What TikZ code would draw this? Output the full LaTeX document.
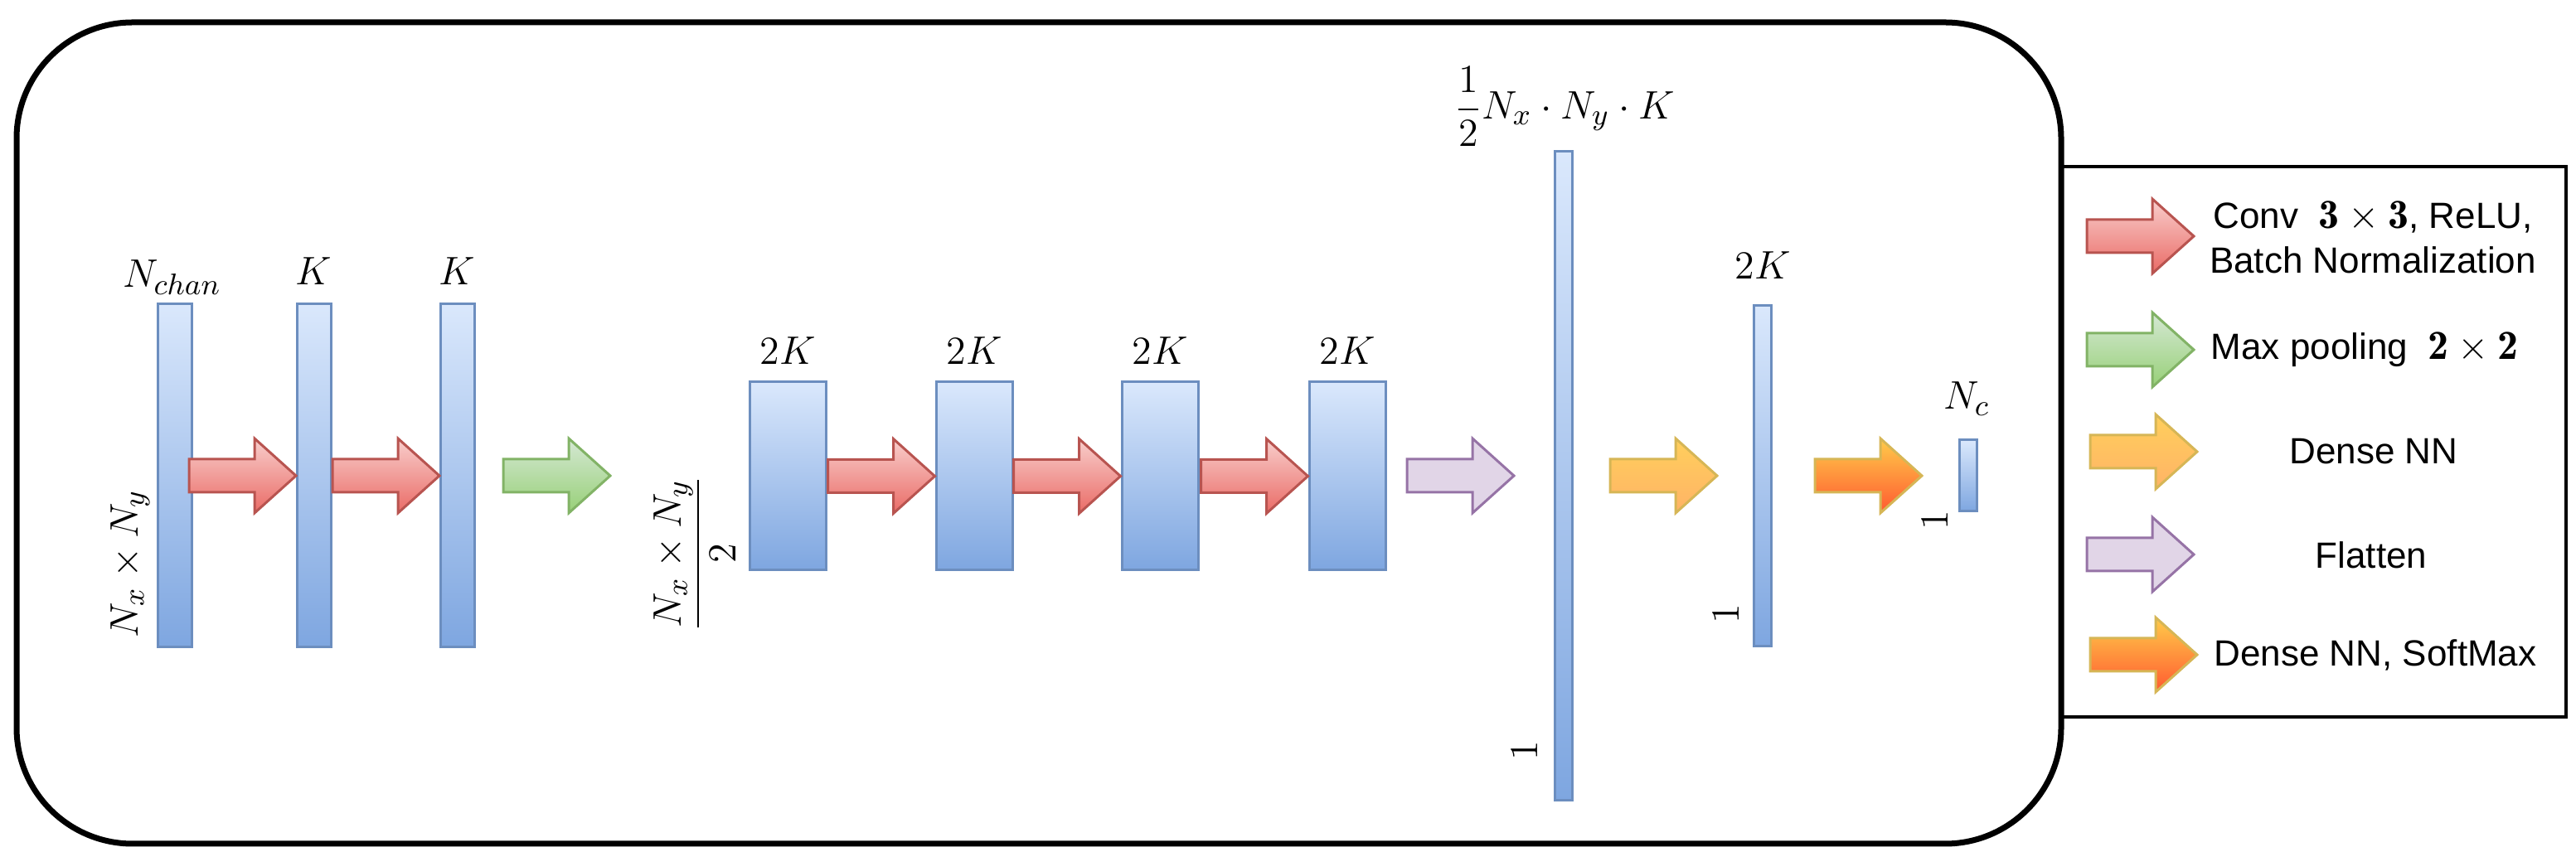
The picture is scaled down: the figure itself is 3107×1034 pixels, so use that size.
\documentclass[tikz,border=0pt]{standalone}
\usepackage{amsmath}
\usepackage{fontspec}
\newfontfamily\legendfont{Liberation Sans}
\definecolor{bartop}{HTML}{DAE8FC}
\definecolor{barbot}{HTML}{7EA6E0}
\definecolor{barline}{HTML}{6C8EBF}
\definecolor{redtop}{HTML}{F8CECC}
\definecolor{redbot}{HTML}{EA6B66}
\definecolor{redline}{HTML}{B85450}
\definecolor{greentop}{HTML}{D5E8D4}
\definecolor{greenbot}{HTML}{97D077}
\definecolor{greenline}{HTML}{82B366}
\definecolor{yeltop}{HTML}{FFCF5C}
\definecolor{yelbot}{HTML}{FFB366}
\definecolor{yelline}{HTML}{D6B656}
\definecolor{orgtop}{HTML}{FFCB4A}
\definecolor{orgbot}{HTML}{FF5A30}
\definecolor{purfill}{HTML}{E1D5E7}
\definecolor{purline}{HTML}{9673A6}
\begin{document}
\begin{tikzpicture}[x=0.25pt,y=-0.25pt,
  every node/.style={font=\fontsize{12.5}{15}\selectfont, inner sep=0pt},
  bar/.style={draw=barline, line width=0.75pt, top color=bartop, bottom color=barbot, inner sep=0pt},
  barrow/.pic={\path[pic actions] (0,0) -- (-50,-45) -- (-50,-20) -- (-129,-20) -- (-129,20) -- (-50,20) -- (-50,45) -- cycle;},
  redarrow/.style={draw=redline, line width=0.75pt, top color=redtop, bottom color=redbot},
  greenarrow/.style={draw=greenline, line width=0.75pt, top color=greentop, bottom color=greenbot},
  yelarrow/.style={draw=yelline, line width=0.75pt, top color=yeltop, bottom color=yelbot},
  orgarrow/.style={draw=yelline, line width=0.75pt, top color=orgtop, bottom color=orgbot},
  purarrow/.style={draw=purline, line width=0.75pt, fill=purfill},
  legtext/.style={font=\legendfont\fontsize{11}{13.5}\selectfont, align=center},
  rot/.style={rotate=90}
]
\useasboundingbox (0,0) rectangle (3107,1034);
% frames
\draw[line width=1.75pt, rounded corners=35pt] (20,27) rectangle (2486,1018);
\draw[line width=0.8pt] (2486,201) rectangle (3095,865);

% bars
\node[bar, minimum width=10.25pt, minimum height=103.5pt] (b1) at (210.5,574) {};
\node[bar, minimum width=10.25pt, minimum height=103.5pt] (b2) at (379,574) {};
\node[bar, minimum width=10.25pt, minimum height=103.5pt] (b3) at (552,574) {};
\node[bar, minimum width=23pt, minimum height=56.75pt] (c1) at (950,574.5) {};
\node[bar, minimum width=23pt, minimum height=56.75pt] (c2) at (1175,574.5) {};
\node[bar, minimum width=23pt, minimum height=56.75pt] (c3) at (1399,574.5) {};
\node[bar, minimum width=23pt, minimum height=56.75pt] (c4) at (1625,574.5) {};
\node[bar, minimum width=5.25pt, minimum height=195.75pt] (f) at (1885.5,574.5) {};
\node[bar, minimum width=5.25pt, minimum height=102.75pt] (d) at (2125.5,574.5) {};
\node[bar, minimum width=5.25pt, minimum height=21.5pt] (o) at (2373.5,574) {};

% labels
\node[anchor=base] (lb1) at (207.5,347) {$N_{chan}$};
\node[anchor=base] (lb2) at (378,344) {$K$};
\node[anchor=base] (lb3) at (551,344) {$K$};
\node[anchor=base] (lc1) at (950,440) {$2K$};
\node[anchor=base] (lc2) at (1175,440) {$2K$};
\node[anchor=base] (lc3) at (1399,440) {$2K$};
\node[anchor=base] (lc4) at (1625,440) {$2K$};
\node (lf) at (1887,128.5) {$\dfrac{1}{2}N_x\cdot N_y\cdot K$};
\node[anchor=base] (ld) at (2126,337) {$2K$};
\node[anchor=base] (lo) at (2372,494) {$N_c$};
\node[rot] (sb) at (157,680) {$N_x\times N_y$};
\node[rot] (sc) at (838,668) {$\dfrac{N_x\times N_y}{2}$};
\node[rot] (sf) at (1839,906) {$1$};
\node[rot] (sd) at (2082,741) {$1$};
\node[rot] (so) at (2334,628) {$1$};

% arrows between layers
\pic[redarrow] at (b2.west) {barrow};
\pic[redarrow] at (b3.west) {barrow};
\coordinate (g) at (736,574);
\pic[greenarrow] at (g) {barrow};
\pic[redarrow] at (c2.west) {barrow};
\pic[redarrow] at (c3.west) {barrow};
\pic[redarrow] at (c4.west) {barrow};
\coordinate (p) at (1826,574);
\pic[purarrow] at (p) {barrow};
\coordinate (y) at (2071,574);
\pic[yelarrow] at (y) {barrow};
\coordinate (s) at (2318,574);
\pic[orgarrow] at (s) {barrow};

% legend
\coordinate (l1) at (2646,285);
\coordinate (l2) at (2646,422);
\coordinate (l3) at (2650,545);
\coordinate (l4) at (2646,669);
\coordinate (l5) at (2650,790);
\pic[redarrow] at (l1) {barrow};
\pic[greenarrow] at (l2) {barrow};
\pic[yelarrow] at (l3) {barrow};
\pic[purarrow] at (l4) {barrow};
\pic[orgarrow] at (l5) {barrow};
\node[legtext] (t1) at (2862,286) {Conv\ \ {\fontsize{12.5}{13.5}\selectfont$\mathbf{3}\times\mathbf{3}$}, ReLU,\\Batch Normalization};
\node[legtext] (t2) at (2852,422) {Max pooling\ \ {\fontsize{12.5}{13.5}\selectfont$\mathbf{2}\times\mathbf{2}$}};
\node[legtext] (t3) at (2863,545) {Dense NN};
\node[legtext] (t4) at (2860,670) {Flatten};
\node[legtext] (t5) at (2865,790) {Dense NN, SoftMax};
\end{tikzpicture}
\end{document}
